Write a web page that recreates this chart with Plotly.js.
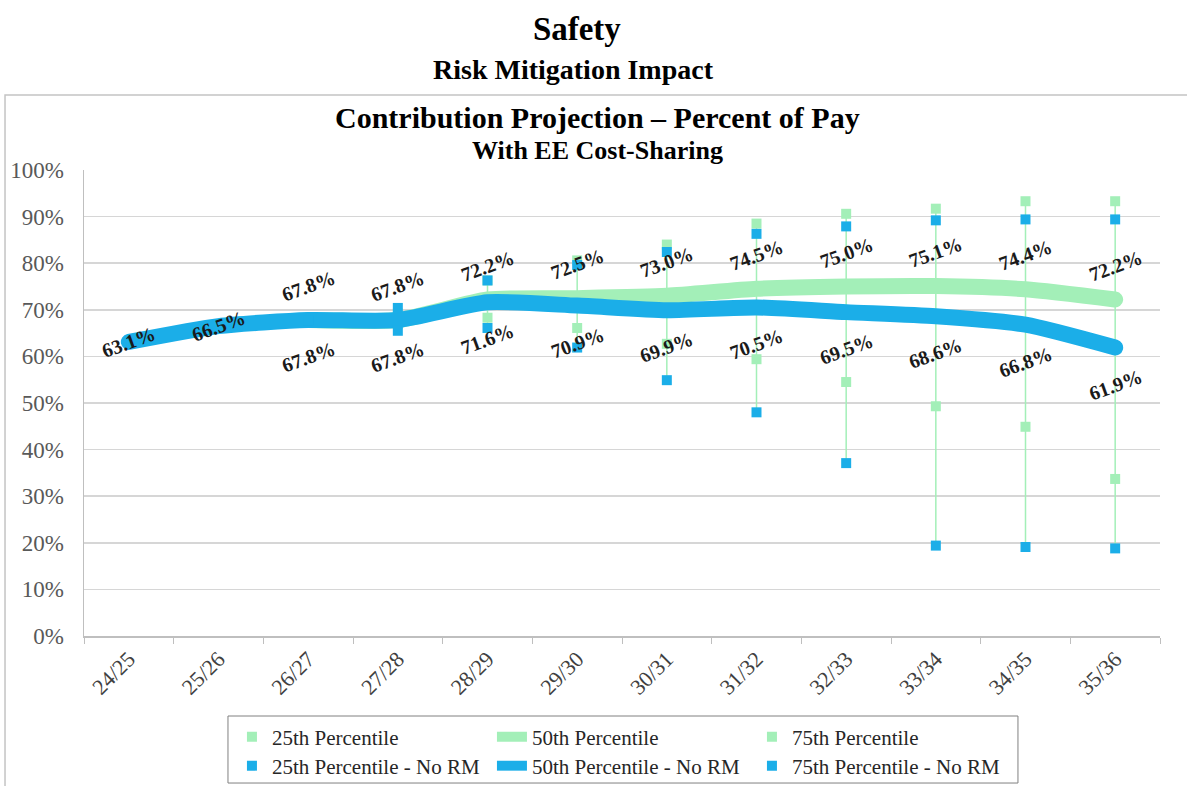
<!DOCTYPE html>
<html><head><meta charset="utf-8">
<script src="https://cdn.plot.ly/plotly-3.0.1.min.js"></script>
<style>html,body{margin:0;padding:0;background:#fff;} #chart{width:1187px;height:786px;}
#chart .scatterlayer .js-line{stroke-linecap:round;stroke-linejoin:round;}</style>
</head><body><div id="chart"></div>
<script>
// ---- data ----
const categories = ['24/25','25/26','26/27','27/28','28/29','29/30','30/31','31/32','32/33','33/34','34/35','35/36'];
const p25      = [null, null, 67.8, 67.0, 68.3, 66.1, 62.7, 59.4, 54.5, 49.3, 44.9, 33.7];
const p50      = [null, null, 67.8, 67.8, 72.2, 72.5, 73.0, 74.5, 75.0, 75.1, 74.4, 72.2];
const p75      = [null, null, 67.8, 69.2, 76.3, 80.6, 84.0, 88.5, 90.6, 91.7, 93.3, 93.3];
const p25NoRM  = [null, null, 67.8, 65.5, 66.1, 61.9, 54.9, 48.0, 37.1, 19.4, 19.1, 18.8];
const p50NoRM  = [63.1, 66.5, 67.8, 67.8, 71.6, 70.9, 69.9, 70.5, 69.5, 68.6, 66.8, 61.9];
const p75NoRM  = [null, null, 67.8, 70.4, 76.3, 79.6, 82.4, 86.3, 87.9, 89.2, 89.4, 89.4];

const GREEN = '#a3efb8', BLUE = '#1baee8';
const FONT = '"Liberation Serif", "Times New Roman", serif';

// high-low connector lines
const hlX = [], hlY = [];
categories.forEach((c, i) => {
  const pct = [p25[i], p75[i], p25NoRM[i], p75NoRM[i]];
  if (pct.every(v => v == null)) return;
  const vals = [p25[i], p50[i], p75[i], p25NoRM[i], p50NoRM[i], p75NoRM[i]].filter(v => v != null);
  hlX.push(c, c, null); hlY.push(Math.max(...vals), Math.min(...vals), null);
});

const mk = (color) => ({symbol: 'square', size: 10, color: color});
const traces = [
  {x: hlX, y: hlY, mode: 'lines', line: {color: GREEN, width: 1.5}, showlegend: false, hoverinfo: 'skip'},
  {x: categories, y: p50, name: '50th Percentile', mode: 'lines', line: {color: GREEN, width: 16, shape: 'spline', smoothing: 0.6}, legend: 'legend', legendrank: 2},
  {x: categories, y: p25, name: '25th Percentile', mode: 'markers', marker: mk(GREEN), legend: 'legend', legendrank: 1},
  {x: categories, y: p75, name: '75th Percentile', mode: 'markers', marker: mk(GREEN), legend: 'legend', legendrank: 3},
  {x: categories, y: p50NoRM, name: '50th Percentile - No RM', mode: 'lines', line: {color: BLUE, width: 16, shape: 'spline', smoothing: 0.6}, legend: 'legend2', legendrank: 2},
  {x: categories, y: p25NoRM, name: '25th Percentile - No RM', mode: 'markers', marker: mk(BLUE), legend: 'legend2', legendrank: 1},
  {x: categories, y: p75NoRM, name: '75th Percentile - No RM', mode: 'markers', marker: mk(BLUE), legend: 'legend2', legendrank: 3}
];

// data labels
const labelFont = {family: FONT, size: 20, color: '#1a1a1a', weight: 'bold'};
const lab = (x, y, shift) => ({x: x, y: y, xref: 'x', yref: 'y', text: y.toFixed(1) + '%', showarrow: false,
  textangle: -20, yshift: shift, font: labelFont});
const annotations = [];
categories.forEach((c, i) => {
  if (p50[i] == null) { annotations.push(lab(c, p50NoRM[i], 0)); }
  else { annotations.push(lab(c, p50[i], 34)); annotations.push(lab(c, p50NoRM[i], -37)); }
});
// titles
const ttl = (text, y, size, x) => ({text: text, xref: 'paper', yref: 'paper', x: x, y: y, xanchor: 'center', yanchor: 'middle',
  showarrow: false, font: {family: FONT, size: size, color: '#000', weight: 'bold'}});
annotations.push(ttl('Risk Mitigation Impact', 1.2146, 28, 0.455));
annotations.push(ttl('Contribution Projection – Percent of Pay', 1.1116, 30, 0.477));
annotations.push(ttl('With EE Cost-Sharing', 1.0429, 26, 0.477));

const legendBase = {orientation: 'h', xanchor: 'left', yanchor: 'middle', x: 0.1375, bgcolor: 'rgba(0,0,0,0)',
  borderwidth: 0, entrywidth: 215, font: {family: FONT, size: 21, color: '#262626'}, traceorder: 'normal'};

const layout = {
  width: 1187, height: 786,
  margin: {l: 84, r: 27, t: 170, b: 150, autoexpand: false},
  paper_bgcolor: '#fff', plot_bgcolor: '#fff',
  title: {text: 'Safety', x: 0.486, xanchor: 'center', y: 1 - 28 / 786, yanchor: 'middle',
    font: {family: FONT, size: 33, color: '#000', weight: 'bold'}},
  xaxis: {type: 'category', categoryorder: 'array', categoryarray: categories, range: [-0.5, 11.5],
    showgrid: false, showline: true, linecolor: '#bfbfbf', linewidth: 1.5, automargin: false,
    ticks: 'outside', tickson: 'boundaries', ticklen: 6, tickcolor: '#bfbfbf', tickangle: -45,
    tickfont: {family: FONT, size: 22, color: '#404040'}, fixedrange: true},
  yaxis: {range: [0, 100], dtick: 10, ticksuffix: '%', showgrid: true, gridcolor: '#d6d6d6', gridwidth: 1.5,
    zeroline: false, showline: true, linecolor: '#bfbfbf', linewidth: 1.5, ticks: '', ticklabelstandoff: 14, automargin: false,
    tickfont: {family: FONT, size: 23, color: '#595959'}, fixedrange: true},
  legend: Object.assign({}, legendBase, {y: -0.217}),
  legend2: Object.assign({}, legendBase, {y: -0.279}),
  shapes: [
    {type: 'rect', xref: 'paper', yref: 'paper', x0: -0.0734, x1: 1.03, y0: -0.34, y1: 1.161, line: {color: '#c4c4c4', width: 1.5}, layer: 'below'},
    {type: 'rect', xref: 'paper', yref: 'paper', x0: 0.1338, x1: 0.868, y0: -0.3155, y1: -0.1717, line: {color: '#808080', width: 1}}
  ],
  annotations: annotations,
  hovermode: false
};

Plotly.newPlot('chart', traces, layout, {staticPlot: true, displayModeBar: false});
</script></body></html>
